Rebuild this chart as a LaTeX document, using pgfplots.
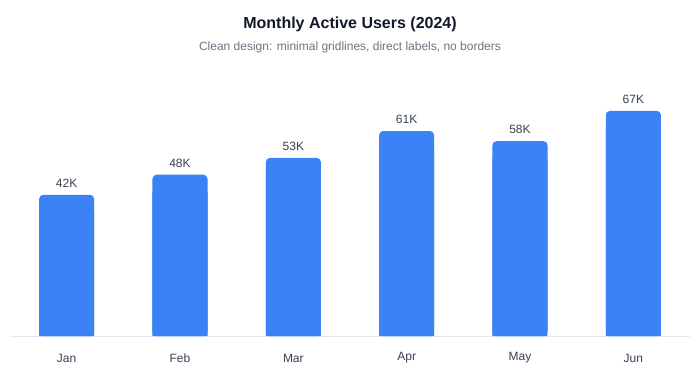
\documentclass[border=0pt]{standalone}
\usepackage{pgfplots}
\pgfplotsset{compat=1.18}
\usepackage{pgfplotstable}
\usepackage{fontspec}
\setmainfont{Liberation Sans}
\definecolor{barc}{HTML}{3B82F6}
\definecolor{titlec}{HTML}{111827}
\definecolor{subc}{HTML}{6B7280}
\definecolor{labc}{HTML}{374151}
\definecolor{gridc}{HTML}{E5E7EB}
\pgfplotstableread{
x users
0 42
1 48
2 53
3 61
4 58
5 67
}\datatable
\begin{document}
\begin{tikzpicture}[x=1pt,y=1pt]
\useasboundingbox (0,0) rectangle (525,285);
\node[font=\bfseries\fontsize{12}{14}\selectfont, text=titlec] at (262.5,267) {Monthly Active Users (2024)};
\node[font=\fontsize{9}{11}\selectfont, text=subc] at (262.5,249.75) {Clean design: minimal gridlines, direct labels, no borders};
\begin{axis}[
  at={(7.5pt,33pt)}, anchor=south west,
  scale only axis, width=510pt, height=192pt,
  xmin=-0.5, xmax=5.5, ymin=0, ymax=76.2,
  axis x line*=bottom, hide y axis,
  x axis line style={-, draw=gridc, line width=0.75pt},
  xtick=data, xticklabels={Jan,Feb,Mar,Apr,May,Jun},
  major tick length=0pt,
  xticklabel style={anchor=center, yshift=-16.5pt, font=\fontsize{9}{11}\selectfont, text=labc},
  /pgf/number format/assume math mode=true,
  clip=false,
]
\addplot[ybar, bar width=41.25pt, bar shift=0pt, fill=barc, draw=none]
  table[x=x, y expr=\thisrow{users}-5] {\datatable};
\addplot[ybar, bar width=41.25pt, bar shift=0pt, fill=barc, draw=none, rounded corners=3pt,
  nodes near coords={\pgfmathprintnumber{\pgfplotspointmeta}K},
  every node near coord/.append style={anchor=base, yshift=5.5pt, font=\fontsize{9}{11}\selectfont, text=labc}]
  table[x=x, y=users] {\datatable};
\end{axis}
\end{tikzpicture}
\end{document}
